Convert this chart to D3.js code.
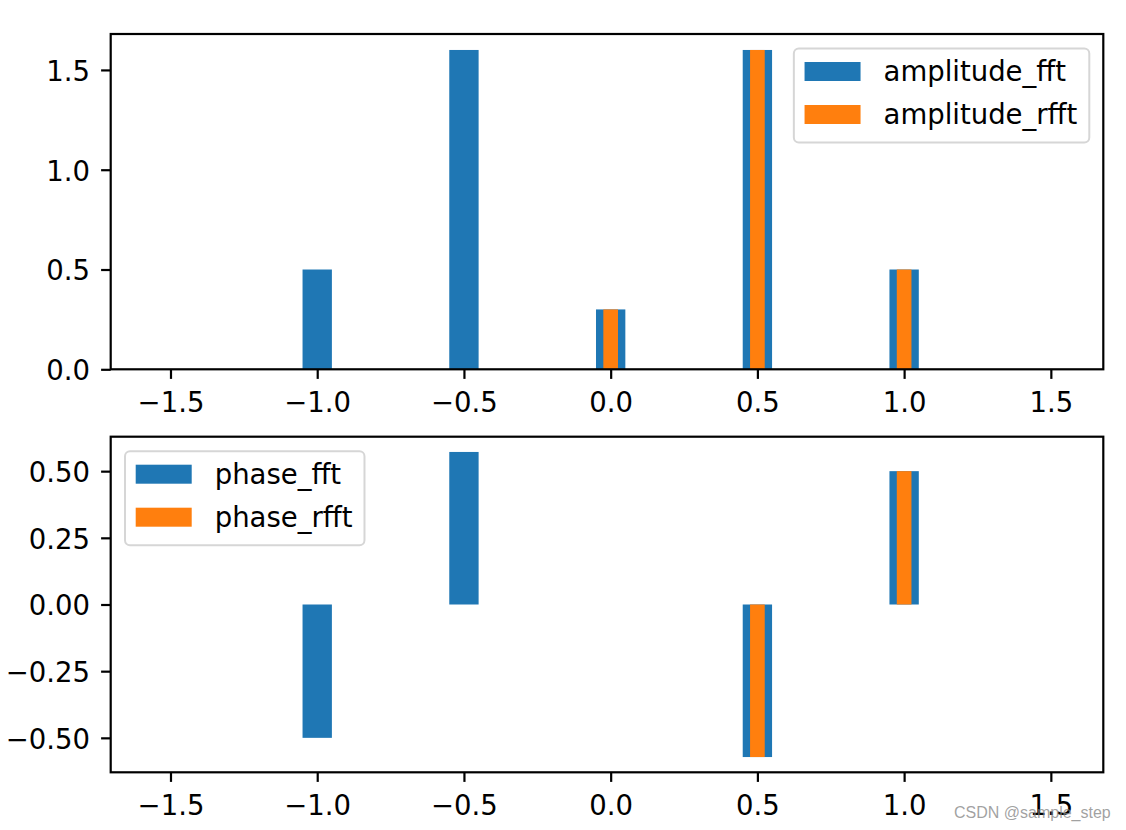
<!DOCTYPE html>
<html>
<head>
<meta charset="utf-8">
<script src="https://cdn.jsdelivr.net/npm/d3@7"></script>
<style>
  html, body { margin: 0; padding: 0; background: #fff; }
  svg { display: block; }
</style>
</head>
<body>
<svg id="chart" width="1126" height="830"></svg>
<script>
// ---- data ----
const freqFft   = [0, 0.5, 1.0, -1.5, -1.0, -0.5];
const ampFft    = [0.3, 1.6, 0.5, 0, 0.5, 1.6];
const phaseFft  = [0, -0.572, 0.5, 0, -0.5, 0.572];
const freqRfft  = [0, 0.5, 1.0, 1.5];
const ampRfft   = [0.3, 1.6, 0.5, 0];
const phaseRfft = [0, -0.572, 0.5, 0];
const widthFft = 0.1;
const widthRfft = 0.05;

const xTicks = [-1.5, -1.0, -0.5, 0.0, 0.5, 1.0, 1.5];
const xTickLabels = ["\u22121.5", "\u22121.0", "\u22120.5", "0.0", "0.5", "1.0", "1.5"];
const yTicksAmp = [0.0, 0.5, 1.0, 1.5];
const yTickLabelsAmp = ["0.0", "0.5", "1.0", "1.5"];
const yTicksPhase = [-0.5, -0.25, 0, 0.25, 0.5];
const yTickLabelsPhase = ["\u22120.50", "\u22120.25", "0.00", "0.25", "0.50"];

const legendAmp = ["amplitude_fft", "amplitude_rfft"];
const legendPhase = ["phase_fft", "phase_rfft"];
const colors = ["#1f77b4", "#ff7f0e"];

// ---- layout ----
const FONT = "'DejaVu Sans', sans-serif";
const FS = 27.5;
const svg = d3.select("#chart");

const axLeft = 110.7, axRight = 1103.3;

// x autoscale like matplotlib (5% margins on bar extents)
const xmin = Math.min(d3.min(freqFft) - widthFft / 2, d3.min(freqRfft) - widthRfft / 2);
const xmax = Math.max(d3.max(freqFft) + widthFft / 2, d3.max(freqRfft) + widthRfft / 2);
const xspan = xmax - xmin;
const x = d3.scaleLinear().domain([xmin - 0.05 * xspan, xmax + 0.05 * xspan]).range([axLeft, axRight]);

function panel(top, bottom, yDomain, yTicks, yLabels, fftVals, rfftVals, legendNames, legendPos) {
  const y = d3.scaleLinear().domain(yDomain).range([bottom, top]);
  const g = svg.append("g");

  // bars fft
  g.append("g").selectAll("rect").data(freqFft.map((f, i) => ({ f, v: fftVals[i] })))
    .join("rect")
    .attr("x", d => x(d.f - widthFft / 2))
    .attr("width", d => x(d.f + widthFft / 2) - x(d.f - widthFft / 2))
    .attr("y", d => Math.min(y(0), y(d.v)))
    .attr("height", d => Math.abs(y(d.v) - y(0)))
    .attr("fill", colors[0]);
  // bars rfft
  g.append("g").selectAll("rect").data(freqRfft.map((f, i) => ({ f, v: rfftVals[i] })))
    .join("rect")
    .attr("x", d => x(d.f - widthRfft / 2))
    .attr("width", d => x(d.f + widthRfft / 2) - x(d.f - widthRfft / 2))
    .attr("y", d => Math.min(y(0), y(d.v)))
    .attr("height", d => Math.abs(y(d.v) - y(0)))
    .attr("fill", colors[1]);

  // x axis
  const xa = g.append("g").attr("transform", `translate(0,${bottom})`)
    .call(d3.axisBottom(x).tickValues(xTicks).tickFormat((d, i) => xLabelsFor(d)).tickSize(9.6).tickPadding(9.6));
  xa.select(".domain").remove();
  xa.selectAll(".tick line").attr("stroke", "#000").attr("stroke-width", 2.2);
  xa.selectAll(".tick text").attr("fill", "#000").attr("font-family", FONT).attr("font-size", FS)
    .attr("y", 0).attr("dy", 0).attr("transform", "translate(0,42.2)");

  // y axis
  const ya = g.append("g").attr("transform", `translate(${axLeft},0)`)
    .call(d3.axisLeft(y).tickValues(yTicks).tickFormat((d, i) => yLabels[i]).tickSize(9.6).tickPadding(11));
  ya.select(".domain").remove();
  ya.selectAll(".tick line").attr("stroke", "#000").attr("stroke-width", 2.2);
  ya.selectAll(".tick text").attr("fill", "#000").attr("font-family", FONT).attr("font-size", FS)
    .attr("dy", "0.38em");

  // spines
  g.append("rect").attr("x", axLeft).attr("y", top).attr("width", axRight - axLeft).attr("height", bottom - top)
    .attr("fill", "none").attr("stroke", "#000").attr("stroke-width", 2.2);

  // legend
  const lg = g.append("g");
  const texts = legendNames.map((n, i) => lg.append("text").text(n)
    .attr("font-family", FONT).attr("font-size", FS).attr("fill", "#000"));
  const maxLen = d3.max(texts, t => t.node().getComputedTextLength());
  const boxW = 89.7 + maxLen + 12;
  const boxH = 94;
  const bx = legendPos === "right" ? axRight - 14 - boxW : axLeft + 14.3;
  const by = top + 14.5;
  lg.insert("rect", ":first-child").attr("x", bx).attr("y", by).attr("width", boxW).attr("height", boxH)
    .attr("rx", 5).attr("ry", 5)
    .attr("fill", "rgba(255,255,255,0.8)").attr("stroke", "#d6d6d6").attr("stroke-width", 2);
  const rows = [23, 66];
  legendNames.forEach((n, i) => {
    lg.append("rect").attr("x", bx + 10.7).attr("y", by + rows[i] - 9.5).attr("width", 56).attr("height", 19)
      .attr("fill", colors[i]);
    texts[i].attr("x", bx + 89.7).attr("y", by + rows[i] + 9.5);
  });
}

function xLabelsFor(d) {
  const i = xTicks.findIndex(t => Math.abs(t - d) < 1e-9);
  return xTickLabels[i];
}

// amplitude panel
const ampMax = Math.max(d3.max(ampFft), d3.max(ampRfft));
panel(34, 369.3, [0, ampMax * 1.05], yTicksAmp, yTickLabelsAmp, ampFft, ampRfft, legendAmp, "right");

// phase panel
const phMin = Math.min(d3.min(phaseFft), d3.min(phaseRfft));
const phMax = Math.max(d3.max(phaseFft), d3.max(phaseRfft));
const phSpan = phMax - phMin;
panel(436.7, 772.3, [phMin - 0.05 * phSpan, phMax + 0.05 * phSpan], yTicksPhase, yTickLabelsPhase, phaseFft, phaseRfft, legendPhase, "left");

// watermark
svg.append("text").text("CSDN @sample_step")
  .attr("x", 954).attr("y", 817.5)
  .attr("font-family", "'Liberation Sans', Arial, sans-serif").attr("font-size", 16)
  .attr("fill", "rgba(130,130,130,0.75)");
</script>
</body>
</html>
